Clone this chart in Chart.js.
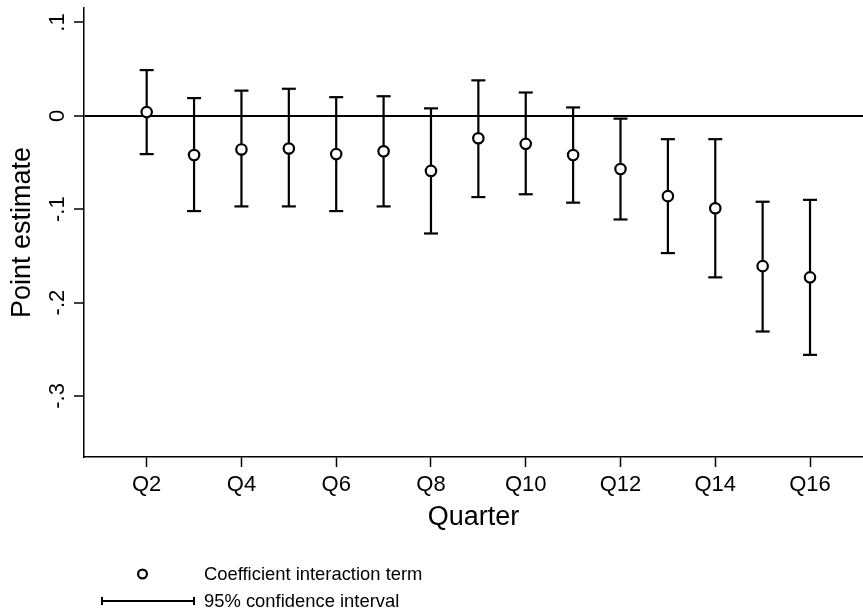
<!DOCTYPE html>
<html>
<head>
<meta charset="utf-8">
<title>Point estimate by quarter</title>
<script src="https://cdn.jsdelivr.net/npm/chart.js@4.4.1/dist/chart.umd.min.js"></script>
<style>
  html, body { margin: 0; padding: 0; background: #fff; }
  #wrap { width: 863px; height: 612px; }
</style>
</head>
<body>
<div id="wrap"><canvas id="mainChart" width="863" height="612"></canvas></div>
<script>
// --- DADOS ---
const quarters = [2, 3, 4, 5, 6, 7, 8, 9, 10, 11, 12, 13, 14, 15, 16];
const pointEstimate = [0.004, -0.042, -0.036, -0.035, -0.041, -0.038, -0.059, -0.024, -0.030, -0.042, -0.057, -0.086, -0.099, -0.161, -0.173];
const ciUpper = [0.049, 0.019, 0.027, 0.029, 0.020, 0.021, 0.008, 0.038, 0.025, 0.009, -0.003, -0.025, -0.025, -0.092, -0.090];
const ciLower = [-0.041, -0.102, -0.097, -0.097, -0.102, -0.097, -0.126, -0.087, -0.084, -0.093, -0.111, -0.147, -0.173, -0.231, -0.256];

const xTickValues = [2, 4, 6, 8, 10, 12, 14, 16];
const xTickLabels = ['Q2', 'Q4', 'Q6', 'Q8', 'Q10', 'Q12', 'Q14', 'Q16'];
const yTickValues = [-0.3, -0.2, -0.1, 0, 0.1];
const yTickLabels = ['-.3', '-.2', '-.1', '0', '.1'];

const FONT = "'Liberation Sans', Arial, sans-serif";
const INK = '#000';

// pontos do IC: inferior, superior, quebra
const ciSegments = quarters.flatMap((q, i) => [
    { x: q, y: ciLower[i] },
    { x: q, y: ciUpper[i] },
    { x: q, y: null }
]);
const ciCaps = quarters.flatMap((q, i) => [
    { x: q, y: ciLower[i] },
    { x: q, y: ciUpper[i] }
]);

// rótulos do eixo y giram 90 graus (o Chart.js não gira o eixo vertical)
const yLabelsPlugin = {
    id: 'yLabels',
    afterDraw(chart) {
        const { ctx } = chart;
        const yScale = chart.scales.y;
        ctx.save();
        ctx.fillStyle = INK;
        ctx.font = `22px ${FONT}`;
        ctx.textAlign = 'center';
        ctx.textBaseline = 'middle';
        yTickValues.forEach((v, i) => {
            ctx.save();
            ctx.translate(57.5, yScale.getPixelForValue(v));
            ctx.rotate(-Math.PI / 2);
            ctx.fillText(yTickLabels[i], 0, 0);
            ctx.restore();
        });
        ctx.restore();
    }
};

// legenda no estilo Stata, em duas linhas
const legendPlugin = {
    id: 'stataLegend',
    afterDraw(chart) {
        const { ctx } = chart;
        const labels = chart.data.datasets;
        ctx.save();
        ctx.strokeStyle = INK;
        ctx.fillStyle = INK;
        ctx.lineWidth = 2.2;

        ctx.beginPath();
        ctx.arc(142.5, 574, 4.4, 0, Math.PI * 2);
        ctx.stroke();

        ctx.lineWidth = 2;
        ctx.beginPath();
        ctx.moveTo(102, 601);
        ctx.lineTo(194, 601);
        ctx.moveTo(102, 597);
        ctx.lineTo(102, 605);
        ctx.moveTo(194, 597);
        ctx.lineTo(194, 605);
        ctx.stroke();

        ctx.font = `18.4px ${FONT}`;
        ctx.textAlign = 'left';
        ctx.textBaseline = 'alphabetic';
        ctx.fillText(labels[0].label, 204, 580);
        ctx.fillText(labels[2].label, 204, 607);
        ctx.restore();
    }
};

const ctx = document.getElementById('mainChart').getContext('2d');
new Chart(ctx, {
    type: 'scatter',
    data: {
        datasets: [
            {
                label: 'Coefficient interaction term',
                data: quarters.map((q, i) => ({ x: q, y: pointEstimate[i] })),
                pointStyle: 'circle',
                pointRadius: 5.2,
                borderWidth: 2.2,
                borderColor: INK,
                backgroundColor: '#fff'
            },
            {
                label: 'CI caps',
                data: ciCaps,
                pointStyle: 'line',
                pointRadius: 7,
                borderWidth: 2.2,
                borderColor: INK
            },
            {
                type: 'line',
                label: '95% confidence interval',
                data: ciSegments,
                showLine: true,
                spanGaps: false,
                pointRadius: 0,
                borderWidth: 2.2,
                borderColor: INK
            }
        ]
    },
    options: {
        responsive: false,
        animation: false,
        events: [],
        layout: { autoPadding: false, padding: { top: 8, right: 0, bottom: 0, left: 0 } },
        plugins: {
            legend: { display: false },
            tooltip: { enabled: false }
        },
        scales: {
            x: {
                type: 'linear',
                min: 0.677,
                max: 17.118,
                afterFit: s => { s.height = 155; },
                afterBuildTicks: s => { s.ticks = xTickValues.map(value => ({ value })); },
                ticks: {
                    color: INK,
                    font: { family: FONT, size: 22 },
                    padding: 5,
                    maxRotation: 0,
                    autoSkip: false,
                    callback: (value, index) => xTickLabels[index]
                },
                grid: {
                    drawOnChartArea: false,
                    tickLength: 10,
                    tickColor: INK,
                    tickWidth: 1.5
                },
                border: { display: true, color: INK, width: 1.5 },
                title: {
                    display: true,
                    text: 'Quarter',
                    color: INK,
                    font: { family: FONT, size: 27 },
                    padding: { top: 0, bottom: 78 }
                }
            },
            y: {
                min: -0.3654,
                max: 0.1155,
                afterFit: s => { s.width = 84; },
                afterBuildTicks: s => { s.ticks = yTickValues.map(value => ({ value })); },
                ticks: { display: false },
                grid: {
                    color: c => (c.tick && c.tick.value === 0 ? INK : 'rgba(0,0,0,0)'),
                    lineWidth: 2,
                    tickLength: 10,
                    tickColor: INK,
                    tickWidth: 1.5
                },
                border: { display: true, color: INK, width: 1.5 },
                title: {
                    display: true,
                    text: 'Point estimate',
                    color: INK,
                    font: { family: FONT, size: 27 },
                    padding: { top: 6, bottom: 0 }
                }
            }
        }
    },
    plugins: [yLabelsPlugin, legendPlugin]
});
</script>
</body>
</html>
